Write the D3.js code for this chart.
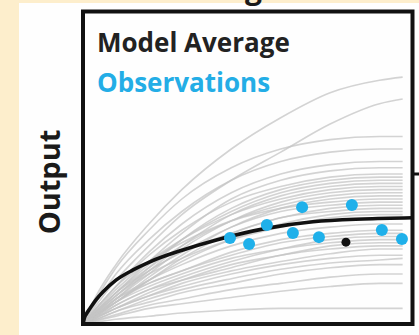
<!DOCTYPE html>
<html>
<head>
<meta charset="utf-8">
<script src="https://cdn.jsdelivr.net/npm/d3@7/dist/d3.min.js"></script>
<style>
  html, body { margin: 0; padding: 0; background: #fdeecc; }
  svg { display: block; }
</style>
</head>
<body>
<svg id="chart" width="419" height="335"></svg>
<script>
// Shared x grid for the ensemble members (0-100 on both axes)
const memberX = [0, 4, 10, 20, 30, 45, 60, 75, 90, 97];

// Individual model runs
const members = [
  [0, 9, 19, 32, 43, 56, 66, 74, 78, 79],
  [0, 6, 14, 25, 35, 46, 55, 64, 70.5, 72],
  [0, 8, 18, 30, 40, 50, 56, 59, 60, 60],
  [0, 7, 16, 27, 36, 46, 52, 55, 56, 56],
  [0, 5, 12, 23, 32, 42, 48, 51, 52, 52],
  [0, 4, 10, 20, 29, 40, 46, 49, 50, 50],
  [0, 5, 12, 22, 30, 39, 44, 47, 48, 48],
  [0, 3.5, 9, 18, 27, 37, 43, 46, 47, 47],
  [0, 4, 10, 19, 27, 36, 42, 45, 46, 46],
  [0, 3, 8, 17, 25, 35, 41, 44, 45, 45],
  [0, 4.5, 11, 20, 27, 35, 40, 43, 44, 44],
  [0, 3, 8, 16, 24, 33, 39, 42, 43, 43],
  [0, 4, 10, 18, 25, 33, 38, 41, 42, 42],
  [0, 3, 7, 15, 22, 31, 37, 40, 41, 41],
  [0, 5, 12, 20, 26, 33, 37, 39, 40, 40],
  [0, 3.5, 9, 17, 23, 31, 36, 38, 39, 39],
  [0, 3, 7, 14, 21, 29, 34, 37, 38, 38],
  [0, 4, 10, 17, 23, 29, 34, 36, 37, 37],
  [0, 2.5, 7, 14, 20, 27, 32, 35, 36, 36],
  [0, 3.5, 9, 16, 21, 27, 31, 34, 35, 35],
  [0, 3, 8, 14, 19, 25, 29, 31, 32, 32],
  [0, 2.5, 7, 13, 17, 23, 27, 29, 30, 30],
  [0, 3, 8, 13, 17, 22, 26, 28, 29, 29],
  [0, 2, 6, 11, 15, 20, 24, 27, 28, 28],
  [0, 3, 7, 12, 16, 21, 24, 26, 27, 27],
  [0, 2, 5, 10, 14, 19, 22, 25, 26, 26],
  [0, 2.5, 6, 11, 14, 18, 22, 24, 25, 25],
  [0, 2, 5, 9, 13, 17, 20, 22.5, 24, 24],
  [0, 2, 5, 9, 12, 16, 19, 21, 22, 22],
  [0, 1.5, 4, 8, 11, 14.5, 17.5, 19.5, 20.5, 21],
  [0, 1.5, 4, 7, 10, 13, 16, 18, 19, 19],
  [0, 1.2, 3, 6, 8, 11, 13, 15, 16, 16],
  [0, 1, 2.5, 5, 6.5, 8.5, 10.5, 12, 13, 13],
  [0, 0.6, 1.5, 2.5, 3.5, 4.5, 5, 5, 5, 5]
];

// Ensemble mean
const averageX = [0, 0.5, 1, 2, 4, 6.1, 10.1, 15.2, 20.3, 30.3, 40.5, 55.6, 69.8, 85, 100];
const averageY = [0, 2.2, 3.2, 4.8, 7.8, 10.3, 14.1, 17.3, 19.9, 23.7, 26.9, 30.6, 32.7, 33.6, 34];

// Observed points
const obsX = [44.6, 50.4, 55.8, 66.5, 63.7, 71.6, 81.6, 90.7, 96.8];
const obsY = [27.5, 25.6, 31.7, 37.4, 29.1, 27.8, 38.1, 30.1, 27.2];

// Single highlighted observation
const markX = [79.8];
const markY = [26.2];

const legendLabels = ["Model Average", "Observations"];
const yLabel = "Output";
const titleText = "Range";

const svg = d3.select("#chart");
const W = 419, H = 335;
const box = { left: 83, right: 412.5, top: 11.5, bottom: 324 };

const x = d3.scaleLinear().domain([0, 100]).range([box.left, box.right]);
const y = d3.scaleLinear().domain([0, 100]).range([box.bottom, box.top]);

// Page background
svg.append("rect").attr("width", W).attr("height", H).attr("fill", "#fdeecc");
svg.append("rect").attr("x", 19).attr("y", 3).attr("width", W - 19).attr("height", H - 3).attr("fill", "#fefefe");

// Title (runs off the top edge)
const title = svg.append("text")
  .attr("y", -1)
  .attr("font-family", "'Open Sans', sans-serif")
  .attr("font-weight", 700)
  .attr("font-size", 30)
  .attr("fill", "#1a1a1a")
  .text(titleText);
const gStart = title.node().getStartPositionOfChar(3).x;
title.attr("x", 245 - gStart);

const line = d3.line().x(d => x(d[0])).y(d => y(d[1])).curve(d3.curveMonotoneX);

// Ensemble members
svg.append("g")
  .selectAll("path")
  .data(members)
  .join("path")
  .attr("d", m => line(m.map((v, i) => [memberX[i], v])))
  .attr("fill", "none")
  .attr("stroke", "#c4c4c4")
  .attr("stroke-opacity", 0.75)
  .attr("stroke-width", 1.6);

// Average curve
svg.append("path")
  .attr("d", line(averageX.map((v, i) => [v, averageY[i]])))
  .attr("fill", "none")
  .attr("stroke", "#111")
  .attr("stroke-width", 3.6);

// Plot frame
svg.append("rect")
  .attr("x", box.left).attr("y", box.top)
  .attr("width", box.right - box.left).attr("height", box.bottom - box.top)
  .attr("fill", "none").attr("stroke", "#111").attr("stroke-width", 4);

// Tick of the neighbouring panel
svg.append("line")
  .attr("x1", box.right).attr("x2", W)
  .attr("y1", y(48)).attr("y2", y(48))
  .attr("stroke", "#111").attr("stroke-width", 3);

// Observations
svg.append("g")
  .selectAll("circle")
  .data(obsX.map((v, i) => [v, obsY[i]]))
  .join("circle")
  .attr("cx", d => x(d[0])).attr("cy", d => y(d[1]))
  .attr("r", 6)
  .attr("fill", "#1fb0ea");

svg.append("g")
  .selectAll("circle")
  .data(markX.map((v, i) => [v, markY[i]]))
  .join("circle")
  .attr("cx", d => x(d[0])).attr("cy", d => y(d[1]))
  .attr("r", 4.5)
  .attr("fill", "#111");

// Legend
const legendColors = ["#222", "#23ade6"];
svg.append("g")
  .selectAll("text")
  .data(legendLabels)
  .join("text")
  .attr("x", 97)
  .attr("y", (d, i) => 52 + i * 40)
  .attr("font-family", "'Open Sans', sans-serif")
  .attr("font-weight", 700)
  .attr("font-size", 26)
  .attr("fill", (d, i) => legendColors[i])
  .text(d => d);

// Y axis label
svg.append("text")
  .attr("transform", "translate(60,182) rotate(-90)")
  .attr("text-anchor", "middle")
  .attr("font-family", "'Open Sans', sans-serif")
  .attr("font-weight", 700)
  .attr("font-size", 29)
  .attr("fill", "#1a1a1a")
  .text(yLabel);
</script>
</body>
</html>
